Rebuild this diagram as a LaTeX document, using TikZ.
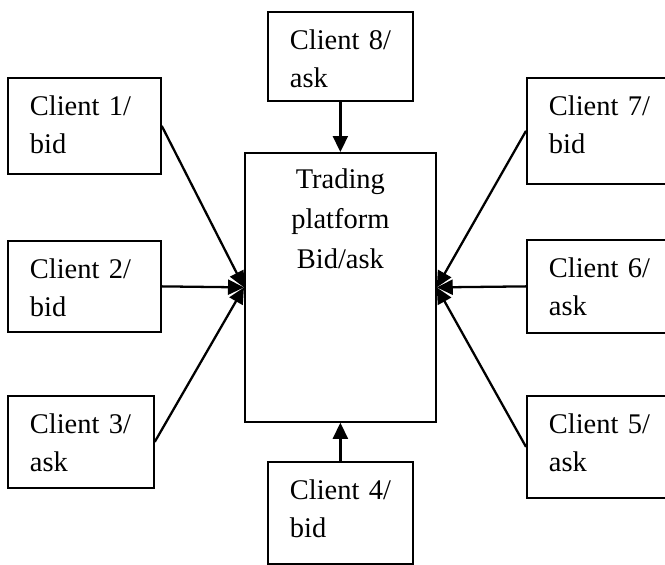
\documentclass[tikz,border=0pt]{standalone}
\usepackage{fontspec}
\setmainfont{Liberation Serif}
\usepackage{tikz}
\usetikzlibrary{arrows.meta}

\begin{document}
\begin{tikzpicture}[
  box/.style={draw, line width=1pt, anchor=north west, inner ysep=0pt,
              inner xsep=0.44cm, text height=0.76cm, align=left,
              font=\fontsize{16.2}{21.6}\selectfont},
  client/.style={box, text width=#1},
  arr/.style={-{Triangle[length=0.32cm, width=0.3cm]}, line width=1.3pt}
]
\useasboundingbox (0,0) rectangle (13.3,-11.28);
% the platform in the middle
\node[box, text width=3.42cm, inner xsep=0.2cm, align=center,
      text height=0.72cm, text depth=4.66cm,
      font=\fontsize{16.2}{22.7}\selectfont]
  (platform) at (4.88,-3.04) {Trading\\platform\\Bid/ask};
% clients, left side
\node[client=2.18cm, text depth=1.16cm] (client1) at (0.14,-1.54) {Client~1/\\bid};
\node[client=2.18cm, text depth=1.06cm] (client2) at (0.14,-4.80) {Client~2/\\bid};
\node[client=2.04cm, text depth=1.08cm] (client3) at (0.14,-7.90) {Client~3/\\ask};
% clients, bottom and top
\node[client=2.02cm, text depth=1.28cm] (client4) at (5.34,-9.22) {Client~4/\\bid};
\node[client=2.02cm, text depth=1.02cm] (client8) at (5.34,-0.22) {Client~8/\\ask};
% clients, right side
\node[client=2.32cm, text depth=1.28cm] (client5) at (10.52,-7.90) {Client~5/\\ask};
\node[client=2.32cm, text depth=1.10cm] (client6) at (10.52,-4.78) {Client~6/\\ask};
\node[client=2.32cm, text depth=1.36cm] (client7) at (10.52,-1.54) {Client~7/\\bid};
% orders into the platform
\draw[arr] (client1.east)  -- (platform.west);
\draw[arr] (client2.east)  -- (platform.west);
\draw[arr] (client3.east)  -- (platform.west);
\draw[arr] (client4.north) -- (platform.south);
\draw[arr] (client5.west)  -- (platform.east);
\draw[arr] (client6.west)  -- (platform.east);
\draw[arr] (client7.west)  -- (platform.east);
\draw[arr] (client8.south) -- (platform.north);
\end{tikzpicture}
\end{document}
